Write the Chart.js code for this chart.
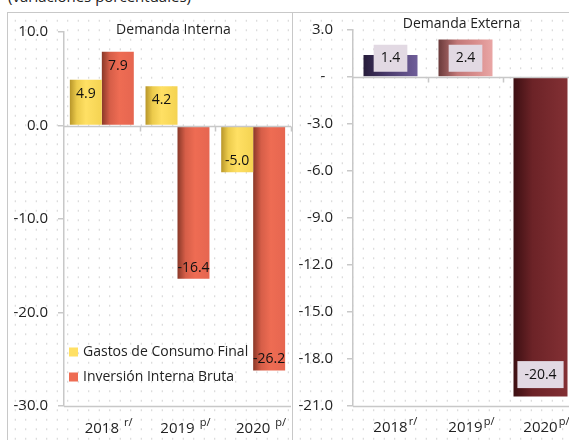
<!DOCTYPE html>
<html>
<head>
<meta charset="utf-8">
<script src="https://cdn.jsdelivr.net/npm/chart.js@4.4.1/dist/chart.umd.min.js"></script>
<style>
  html, body { margin: 0; padding: 0; background: #fff; overflow: hidden; width: 569px; height: 440px; }
  body { position: relative; font-family: 'Open Sans', sans-serif; }
  #note { position: absolute; left: 8px; top: -14px; font-size: 15px; color: #222; }
  .panel {
    position: absolute; top: 12px; height: 440px;
    border: 1px solid #c8c8c8; box-sizing: border-box;
    background-color: #fff;
    background-image: radial-gradient(circle, #cfcfcf 0.6px, transparent 1px);
    background-size: 10.5px 9.5px;
    background-position: 2px 3px;
  }
  #p1 { left: 7px; width: 286px; }
  #p2 { left: 292px; width: 300px; }
  canvas { position: absolute; left: 0; top: 0; }
  #c2 { top: -6px; }
</style>
</head>
<body>
<div id="note">(variaciones porcentuales)</div>
<div class="panel" id="p1"><canvas id="c1" width="285" height="428"></canvas></div>
<div class="panel" id="p2"><canvas id="c2" width="300" height="428"></canvas></div>
<script>
// data
const years = ['2018', '2019', '2020'];
const yearMarks = ['r/', 'p/', 'p/'];
const consumo = [4.9, 4.2, -5.0];
const inversion = [7.9, -16.4, -26.2];
const externa = [1.4, 2.4, -20.4];

const FONT = "'Open Sans', sans-serif";
const GRAY = '#c8c8c8';

// horizontal gradient per bar, worked out from the scales
function barFill(stops, fallback, catPct) {
    return function (ctx) {
        const chart = ctx.chart;
        const area = chart.chartArea;
        if (!area || !chart.scales.x) return fallback;
        const x = chart.scales.x;
        const n = chart.data.labels.length;
        const nds = chart.data.datasets.length;
        const catW = area.width / n;
        const group = catW * catPct;
        const barW = group / nds;
        const left = x.getPixelForValue(ctx.dataIndex) - group / 2 + ctx.datasetIndex * barW;
        const g = chart.ctx.createLinearGradient(left, 0, left + barW, 0);
        stops.forEach(s => g.addColorStop(s[0], s[1]));
        return g;
    };
}

const yellowStops = [[0, '#b8962a'], [0.22, '#eccb4c'], [0.5, '#ffe064'], [1, '#f4d352']];
const redStops = [[0, '#8a3828'], [0.25, '#d65e48'], [0.55, '#ee6c53'], [1, '#e66650']];
const extStops = [
    [[0, '#261c3a'], [0.4, '#463768'], [1, '#705f9a']],
    [[0, '#6a3a3a'], [0.35, '#c27878'], [0.7, '#d98e8d'], [1, '#e9a6a5']],
    [[0, '#3c0f12'], [0.35, '#6c2327'], [1, '#833034']]
];

// axis lines, x labels, titles, value labels, legend
const decor = {
    id: 'decor',
    afterDatasetsDraw(chart, args, o) {
        const { ctx, chartArea: a, scales: { x, y } } = chart;
        const n = chart.data.labels.length;
        const catW = a.width / n;
        ctx.save();
        ctx.strokeStyle = GRAY;
        ctx.lineWidth = 1.5;
        // zero line + ticks
        const y0 = Math.round(y.getPixelForValue(0)) + 0.5;
        ctx.beginPath();
        ctx.moveTo(a.left, y0); ctx.lineTo(a.right, y0);
        for (let i = 1; i <= n; i++) {
            const xx = Math.round(a.left + i * catW) + 0.5;
            ctx.moveTo(xx, y0); ctx.lineTo(xx, y0 + 5);
        }
        // bottom line
        ctx.moveTo(a.left, a.bottom + 0.5); ctx.lineTo(a.right, a.bottom + 0.5);
        ctx.stroke();

        // x labels with superscripts
        ctx.fillStyle = '#222';
        ctx.textBaseline = 'middle';
        chart.data.labels.forEach((lab, i) => {
            const cx = x.getPixelForValue(i);
            ctx.font = '15px ' + FONT;
            ctx.textAlign = 'center';
            ctx.fillText(lab, cx, a.bottom + o.labelDy);
            const w = ctx.measureText(lab).width;
            ctx.font = '11px ' + FONT;
            ctx.textAlign = 'left';
            ctx.fillText(yearMarks[i], cx + w / 2 + o.supGap, a.bottom + o.labelDy - 6);
        });

        // panel title
        ctx.font = '14px ' + FONT;
        ctx.textAlign = 'center';
        ctx.fillText(o.title, (a.left + a.right) / 2 + o.titleDx, a.top + o.titleDy);

        // value labels
        ctx.font = '14px ' + FONT;
        chart.data.datasets.forEach((ds, di) => {
            const meta = chart.getDatasetMeta(di);
            meta.data.forEach((el, i) => {
                const v = ds.data[i];
                const txt = v.toFixed(1);
                if (o.boxed) {
                    const ly = v >= 0 ? el.base - 18 : el.y - 22;
                    const w = ctx.measureText(txt).width + 14;
                    ctx.fillStyle = '#e2d9e3';
                    ctx.fillRect(el.x - w / 2, ly - 13.5, w, 27);
                    ctx.fillStyle = '#111';
                    ctx.fillText(txt, el.x, ly);
                } else {
                    const ly = v >= 0 ? el.y + 14 : el.y - 11;
                    ctx.fillStyle = '#111';
                    ctx.fillText(txt, el.x, ly);
                }
            });
        });

        // legend inside the plot
        if (o.legend) {
            ctx.textAlign = 'left';
            chart.data.datasets.forEach((ds, di) => {
                const ly = o.legendY + di * 25;
                ctx.fillStyle = ds.legendColor;
                ctx.fillRect(o.legendX, ly - 4.5, 9, 9);
                ctx.fillStyle = '#222';
                ctx.fillText(ds.label, o.legendX + 14, ly);
            });
        }
        ctx.restore();
    }
};

function yScale(min, max, step, width, pad, zeroText) {
    return {
        min: min, max: max,
        ticks: {
            stepSize: step, padding: pad, color: '#222',
            font: { family: FONT, size: 15 },
            callback: v => (v === 0 && zeroText) ? zeroText : v.toFixed(1)
        },
        grid: { drawOnChartArea: false, color: GRAY, tickLength: 6, lineWidth: 1.5 },
        border: { color: GRAY, width: 1.5 },
        afterFit: s => { s.width = width; }
    };
}

new Chart(document.getElementById('c1'), {
    type: 'bar',
    data: {
        labels: years,
        datasets: [
            { label: 'Gastos de Consumo Final', data: consumo, legendColor: '#ffe064',
              backgroundColor: barFill(yellowStops, '#ffe064', 0.845) },
            { label: 'Inversión Interna Bruta', data: inversion, legendColor: '#ee6c53',
              backgroundColor: barFill(redStops, '#ee6c53', 0.845) }
        ]
    },
    options: {
        responsive: false, animation: false,
        categoryPercentage: 0.845, barPercentage: 1,
        layout: { padding: { top: 19, right: 2, bottom: 35, left: 0 } },
        scales: {
            x: { display: false },
            y: yScale(-30, 10, 10, 56, 10, null)
        },
        plugins: {
            legend: { display: false }, tooltip: { enabled: false },
            decor: { title: 'Demanda Interna', titleDy: -2, titleDx: -4, labelDy: 23, supGap: 5,
                     boxed: false, legend: true, legendX: 61, legendY: 339 }
        }
    },
    plugins: [decor]
});

new Chart(document.getElementById('c2'), {
    type: 'bar',
    data: {
        labels: years,
        datasets: [
            { label: 'Demanda Externa', data: externa,
              backgroundColor: ctx => barFill(extStops[ctx.dataIndex], '#6c2327', 0.72)(ctx) }
        ]
    },
    options: {
        responsive: false, animation: false,
        categoryPercentage: 0.72, barPercentage: 1,
        layout: { padding: { top: 18, right: 15, bottom: 29, left: 0 } },
        scales: {
            x: { display: false },
            y: yScale(-21, 3, 3, 60, 14, '-  ')
        },
        plugins: {
            legend: { display: false }, tooltip: { enabled: false },
            decor: { title: 'Demanda Externa', titleDy: -6, titleDx: -4, labelDy: 22, supGap: 1,
                     boxed: true, legend: false }
        }
    },
    plugins: [decor]
});
</script>
</body>
</html>
